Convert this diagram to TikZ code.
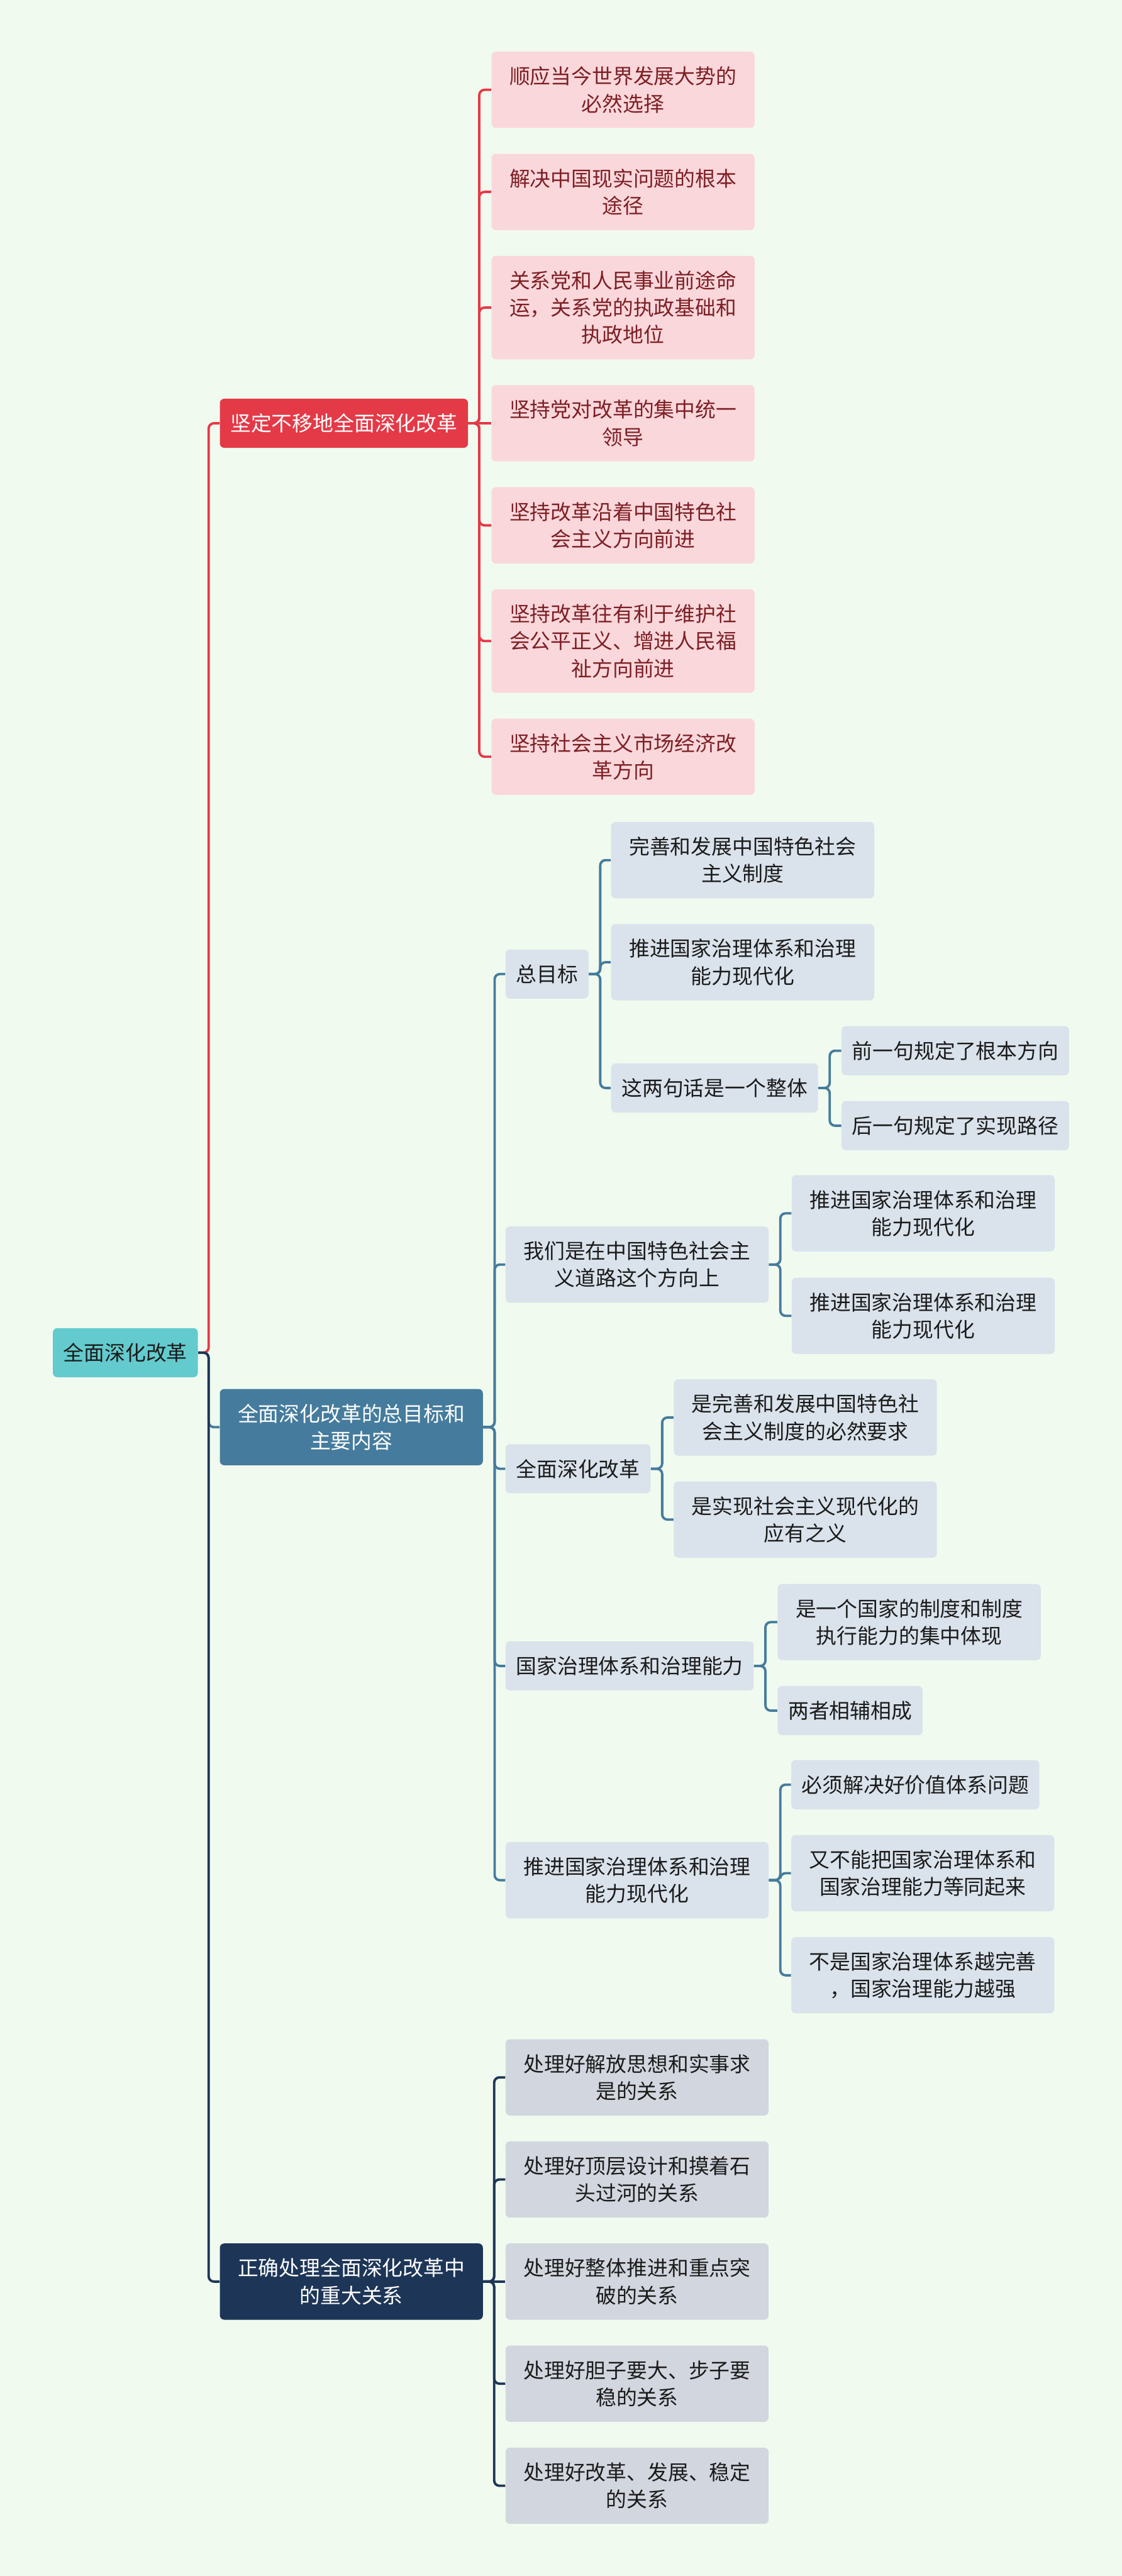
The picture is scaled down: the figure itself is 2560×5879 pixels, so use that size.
\documentclass[tikz,border=0pt]{standalone}
\usepackage{fontspec}
\setmainfont{Noto Sans CJK SC}
\usepackage{tikz}
\usetikzlibrary{positioning}

\definecolor{bgcol}{HTML}{F1FAEE}
\definecolor{rootcol}{HTML}{63CBCD}
\definecolor{redcol}{HTML}{E43A47}
\definecolor{pinkcol}{HTML}{FAD7DB}
\definecolor{maroon}{HTML}{7D1F24}
\definecolor{steelcol}{HTML}{457B9D}
\definecolor{steelleaf}{HTML}{DAE3EB}
\definecolor{navycol}{HTML}{1D3557}
\definecolor{navyleaf}{HTML}{D2D7DF}
\definecolor{inkcol}{HTML}{1B1B1B}

\newcommand{\mapfont}{\fontsize{13.4pt}{17.64pt}\selectfont}

\begin{document}
\begin{tikzpicture}[x=0.01cm, y=-0.01cm,
  box/.style={rounded corners=0.1cm, inner xsep=0.24cm, inner ysep=0pt,
              font=\mapfont, align=center, anchor=west},
  one/.style={box, minimum height=1.12cm},
  two/.style={box, minimum height=1.74cm, minimum width=6cm},
  three/.style={box, minimum height=2.36cm, minimum width=6cm},
  rootbox/.style={fill=rootcol, text=inkcol},
  redmain/.style={fill=redcol, text=white},
  redleaf/.style={fill=pinkcol, text=maroon},
  steelmain/.style={fill=steelcol, text=white},
  steelsub/.style={fill=steelleaf, text=inkcol},
  navymain/.style={fill=navycol, text=white},
  navysub/.style={fill=navyleaf, text=inkcol},
  conn/.style={line width=0.055cm, rounded corners=0.12cm},
  redln/.style={conn, draw=redcol},
  steelln/.style={conn, draw=steelcol},
  navyln/.style={conn, draw=navycol}
]
  \fill[bgcol] (0,0) rectangle (2560,5879);
  \useasboundingbox (0,0) rectangle (2560,5879);

  % root and main branches
  \node[one, rootbox]    (root) at (120,3087) {全面深化改革};
  \node[one, redmain]    (red)  at (501,966)  {坚定不移地全面深化改革};
  \node[two, steelmain]  (goal) at (501,3257) {全面深化改革的总目标和\\主要内容};
  \node[two, navymain]   (rel)  at (501,5207) {正确处理全面深化改革中\\的重大关系};

  % red leaves
  \node[two, redleaf]   (r1) at (1121,205)  {顺应当今世界发展大势的\\必然选择};
  \node[two, redleaf]   (r2) at (1121,438)  {解决中国现实问题的根本\\途径};
  \node[three, redleaf] (r3) at (1121,702)  {关系党和人民事业前途命\\运，关系党的执政基础和\\执政地位};
  \node[two, redleaf]   (r4) at (1121,966)  {坚持党对改革的集中统一\\领导};
  \node[two, redleaf]   (r5) at (1121,1199) {坚持改革沿着中国特色社\\会主义方向前进};
  \node[three, redleaf] (r6) at (1121,1463) {坚持改革往有利于维护社\\会公平正义、增进人民福\\祉方向前进};
  \node[two, redleaf]   (r7) at (1121,1727) {坚持社会主义市场经济改\\革方向};

  % steel branch
  \node[one, steelsub] (g1) at (1153,2223) {总目标};
  \node[two, steelsub] (g2) at (1153,2886) {我们是在中国特色社会主\\义道路这个方向上};
  \node[one, steelsub] (g3) at (1153,3352) {全面深化改革};
  \node[one, steelsub] (g4) at (1153,3802) {国家治理体系和治理能力};
  \node[two, steelsub] (g5) at (1153,4291) {推进国家治理体系和治理\\能力现代化};

  \node[two, steelsub] (g1a) at (1394,1963) {完善和发展中国特色社会\\主义制度};
  \node[two, steelsub] (g1b) at (1394,2196) {推进国家治理体系和治理\\能力现代化};
  \node[one, steelsub] (g1c) at (1394,2483) {这两句话是一个整体};
  \node[one, steelsub] (g1c1) at (1920,2398) {前一句规定了根本方向};
  \node[one, steelsub] (g1c2) at (1920,2569) {后一句规定了实现路径};

  \node[two, steelsub] (g2a) at (1806,2769) {推进国家治理体系和治理\\能力现代化};
  \node[two, steelsub] (g2b) at (1806,3003) {推进国家治理体系和治理\\能力现代化};

  \node[two, steelsub] (g3a) at (1537,3235) {是完善和发展中国特色社\\会主义制度的必然要求};
  \node[two, steelsub] (g3b) at (1537,3468) {是实现社会主义现代化的\\应有之义};

  \node[two, steelsub] (g4a) at (1774,3702) {是一个国家的制度和制度\\执行能力的集中体现};
  \node[one, steelsub] (g4b) at (1774,3904) {两者相辅相成};

  \node[one, steelsub] (g5a) at (1805,4073) {必须解决好价值体系问题};
  \node[two, steelsub] (g5b) at (1805,4275) {又不能把国家治理体系和\\国家治理能力等同起来};
  \node[two, steelsub] (g5c) at (1805,4508) {不是国家治理体系越完善\\，国家治理能力越强};

  % navy leaves
  \node[two, navysub] (n1) at (1153,4741) {处理好解放思想和实事求\\是的关系};
  \node[two, navysub] (n2) at (1153,4974) {处理好顶层设计和摸着石\\头过河的关系};
  \node[two, navysub] (n3) at (1153,5207) {处理好整体推进和重点突\\破的关系};
  \node[two, navysub] (n4) at (1153,5440) {处理好胆子要大、步子要\\稳的关系};
  \node[two, navysub] (n5) at (1153,5673) {处理好改革、发展、稳定\\的关系};

  % connectors
  \draw[redln] (root.east) -- ++(24,0) |- (red.west);
  \draw[steelln] (root.east) -- ++(24,0) |- (goal.west);
  \draw[navyln] (root.east) -- ++(24,0) |- (rel.west);

  \draw[redln] (red.east) -- ++(25,0) |- (r1.west);
  \draw[redln] (red.east) -- ++(25,0) |- (r2.west);
  \draw[redln] (red.east) -- ++(25,0) |- (r3.west);
  \draw[redln] (red.east) -- (r4.west);
  \draw[redln] (red.east) -- ++(25,0) |- (r5.west);
  \draw[redln] (red.east) -- ++(25,0) |- (r6.west);
  \draw[redln] (red.east) -- ++(25,0) |- (r7.west);

  \draw[steelln] (goal.east) -- ++(26,0) |- (g1.west);
  \draw[steelln] (goal.east) -- ++(26,0) |- (g2.west);
  \draw[steelln] (goal.east) -- ++(26,0) |- (g3.west);
  \draw[steelln] (goal.east) -- ++(26,0) |- (g4.west);
  \draw[steelln] (goal.east) -- ++(26,0) |- (g5.west);

  \draw[steelln] (g1.east) -- ++(26,0) |- (g1a.west);
  \draw[steelln] (g1.east) -- ++(26,0) |- (g1b.west);
  \draw[steelln] (g1.east) -- ++(26,0) |- (g1c.west);
  \draw[steelln] (g1c.east) -- ++(26,0) |- (g1c1.west);
  \draw[steelln] (g1c.east) -- ++(26,0) |- (g1c2.west);

  \draw[steelln] (g2.east) -- ++(26,0) |- (g2a.west);
  \draw[steelln] (g2.east) -- ++(26,0) |- (g2b.west);
  \draw[steelln] (g3.east) -- ++(26,0) |- (g3a.west);
  \draw[steelln] (g3.east) -- ++(26,0) |- (g3b.west);
  \draw[steelln] (g4.east) -- ++(26,0) |- (g4a.west);
  \draw[steelln] (g4.east) -- ++(26,0) |- (g4b.west);
  \draw[steelln] (g5.east) -- ++(26,0) |- (g5a.west);
  \draw[steelln] (g5.east) -- ++(26,0) |- (g5b.west);
  \draw[steelln] (g5.east) -- ++(26,0) |- (g5c.west);

  \draw[navyln] (rel.east) -- ++(25,0) |- (n1.west);
  \draw[navyln] (rel.east) -- ++(25,0) |- (n2.west);
  \draw[navyln] (rel.east) -- (n3.west);
  \draw[navyln] (rel.east) -- ++(25,0) |- (n4.west);
  \draw[navyln] (rel.east) -- ++(25,0) |- (n5.west);
\end{tikzpicture}
\end{document}
